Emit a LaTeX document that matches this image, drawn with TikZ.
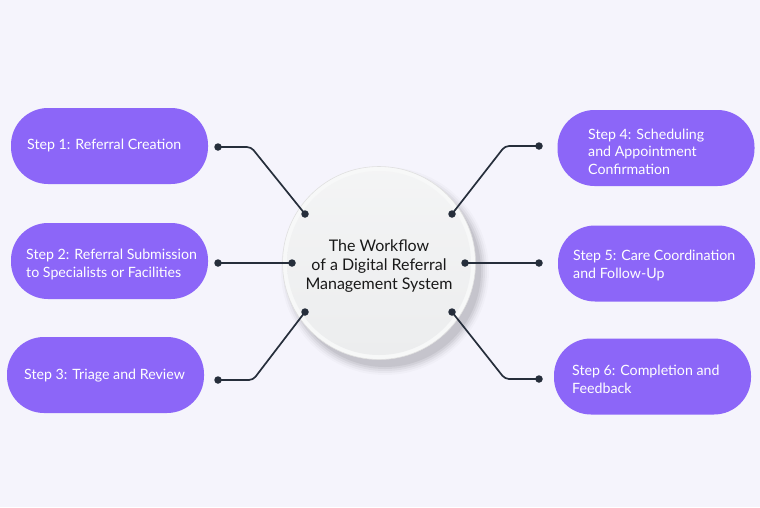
\documentclass[tikz,border=0pt]{standalone}
\usepackage{fontspec}
\setmainfont{Lato}
\definecolor{bgc}{HTML}{F5F4FC}
\definecolor{pill}{HTML}{8C66F8}
\definecolor{ink}{HTML}{262E3B}
\definecolor{disc}{HTML}{ECEDEE}
\begin{document}
\begin{tikzpicture}[x=1pt,y=-1pt,
  pillbox/.style={fill=pill,draw=none,rounded corners=37pt,minimum width=197pt,minimum height=76pt,inner sep=0pt},
  steptext/.style={anchor=west,text=white,align=left,font=\fontsize{14.2}{17.5}\selectfont,inner sep=0pt},
  dotnode/.style={circle,fill=ink,inner sep=0pt,minimum size=7.5pt},
  wire/.style={draw=ink,line width=1.7pt,rounded corners=4pt}]
\fill[bgc] (0,0) rectangle (760,507);
\useasboundingbox (0,0) rectangle (760,507);
% pills
\node[pillbox] (b1) at (109.5,146) {};
\node[pillbox] (b2) at (109.5,261) {};
\node[pillbox] (b3) at (105.5,375) {};
\node[pillbox] (b4) at (656,148) {};
\node[pillbox] (b5) at (656.5,263.5) {};
\node[pillbox] (b6) at (652.5,376.5) {};
\node[steptext] (t1) at (27,145.5) {Step 1: Referral Creation};
\node[steptext] (t2) at (26,264.5) {Step 2: Referral Submission\\to Specialists or Facilities};
\node[steptext] (t3) at (24,375.5) {Step 3: Triage and Review};
\node[steptext] (t4) at (588,151.5) {Step 4: Scheduling\\and Appointment\\Confirmation};
\node[steptext] (t5) at (573,265.5) {Step 5: Care Coordination\\and Follow-Up};
\node[steptext] (t6) at (572,379.5) {Step 6: Completion and\\Feedback};
% circle shadow
\foreach \r/\o in {104/0.02,102/0.03,100/0.04,98/0.05,96/0.06}
  \fill[black,opacity=\o] (385,271) circle (\r);
\node[circle,minimum size=193pt,inner sep=0pt,draw=black!12,line width=0.6pt,fill=white!60!disc] (hub) at (379,263) {};
\shade[top color=disc!60!white,bottom color=disc] (379,263) circle (92);
\node[align=center,text=black!90,font=\fontsize{16}{19}\selectfont] (title) at (379,266)
  {The Workflow\\of a Digital Referral\\Management System};
% dots
\node[dotnode] (l1) at (218,147) {};
\node[dotnode] (l2) at (218,263) {};
\node[dotnode] (l3) at (218,380) {};
\node[dotnode] (c1) at (305,214) {};
\node[dotnode] (c2) at (292,263) {};
\node[dotnode] (c3) at (305,312) {};
\node[dotnode] (r1) at (539,146) {};
\node[dotnode] (r2) at (539,263) {};
\node[dotnode] (r3) at (539,379) {};
\node[dotnode] (c4) at (452,214) {};
\node[dotnode] (c5) at (465,263) {};
\node[dotnode] (c6) at (452,312) {};
\coordinate (k1) at (251,147);
\coordinate (k3) at (253,380);
\coordinate (k4) at (505,146);
\coordinate (k6) at (505,379);
\draw[wire] (l1.center) -- (k1) -- (c1.center);
\draw[wire] (l2.center) -- (c2.center);
\draw[wire] (l3.center) -- (k3) -- (c3.center);
\draw[wire] (r1.center) -- (k4) -- (c4.center);
\draw[wire] (r2.center) -- (c5.center);
\draw[wire] (r3.center) -- (k6) -- (c6.center);
\end{tikzpicture}
\end{document}
